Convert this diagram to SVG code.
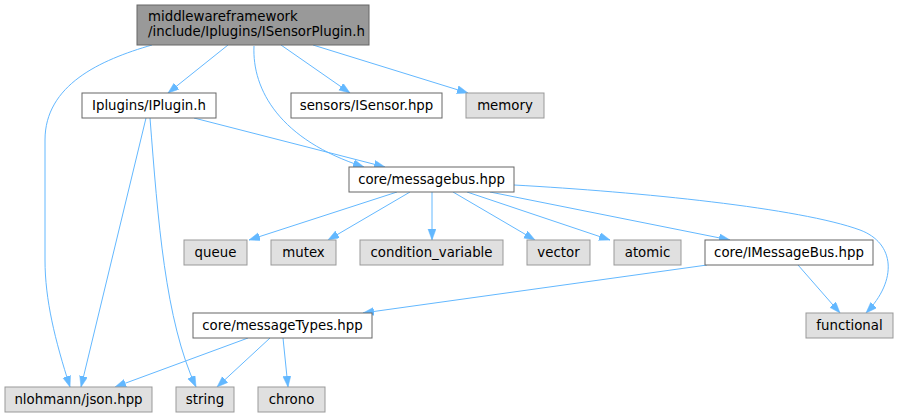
<svg xmlns="http://www.w3.org/2000/svg" width="898" height="417" viewBox="0 0 898 417">
<style>
text{font-family:"DejaVu Sans",sans-serif;font-size:13.33px;fill:#000}
.c{text-anchor:middle}
.root{fill:#999999;stroke:#666666;stroke-width:1}
.int{fill:#ffffff;stroke:#666666;stroke-width:1}
.sys{fill:#e0e0e0;stroke:#999999;stroke-width:1}
.e{fill:none;stroke:#63b8ff;stroke-width:1;marker-end:url(#ah)}
</style>
<defs>
<marker id="ah" markerUnits="userSpaceOnUse" markerWidth="12" markerHeight="9" refX="11" refY="4" orient="auto">
<path d="M0,0 L11,4 L0,8 z" fill="#63b8ff" stroke="#63b8ff" stroke-width="0.5"/>
</marker>
</defs>
<rect width="898" height="417" fill="#ffffff"/>
<g id="edges">
<path class="e" d="M152,45 C100,60 45,85 45,140 L45,260 C45,300 55,340 70,387"/>
<path class="e" d="M228,45 L168,93"/>
<path class="e" d="M254,46 C252,90 280,140 364,167"/>
<path class="e" d="M281,45 L350,93"/>
<path class="e" d="M313,45 L468,93"/>
<path class="e" d="M194,118 L385,167"/>
<path class="e" d="M146,118 L81,387"/>
<path class="e" d="M150,118 C158,220 165,320 196,387"/>
<path class="e" d="M397,192 L249,240"/>
<path class="e" d="M410,192 L328,240"/>
<path class="e" d="M432,192 L432,240"/>
<path class="e" d="M453,192 L535,240"/>
<path class="e" d="M467,192 L610,240"/>
<path class="e" d="M490,192 L730,240"/>
<path class="e" d="M514,185 C640,192 800,208 860,230 C895,243 898,280 866,313"/>
<path class="e" d="M798,265 L840,313"/>
<path class="e" d="M707,265 L363,313"/>
<path class="e" d="M248,338 L115,387"/>
<path class="e" d="M270,338 L217,387"/>
<path class="e" d="M283,338 L288,387"/>
</g>
<g id="node-root"><rect class="root" x="137" y="5" width="232" height="40"/><text x="148" y="21">middlewareframework</text><text x="148" y="36">/include/Iplugins/ISensorPlugin.h</text></g>
<g id="node-iplugin"><rect class="int" x="82" y="93" width="134" height="25"/><text class="c" x="149" y="110">Iplugins/IPlugin.h</text></g>
<g id="node-isensor"><rect class="int" x="291" y="93" width="151" height="25"/><text class="c" x="366.5" y="110">sensors/ISensor.hpp</text></g>
<g id="node-memory"><rect class="sys" x="466" y="93" width="78" height="25"/><text class="c" x="505" y="110">memory</text></g>
<g id="node-messagebus"><rect class="int" x="349" y="167" width="165" height="25"/><text class="c" x="431.5" y="184">core/messagebus.hpp</text></g>
<g id="node-queue"><rect class="sys" x="184" y="240" width="63" height="25"/><text class="c" x="215.5" y="257">queue</text></g>
<g id="node-mutex"><rect class="sys" x="271" y="240" width="65" height="25"/><text class="c" x="303.5" y="257">mutex</text></g>
<g id="node-condvar"><rect class="sys" x="360" y="240" width="143" height="25"/><text class="c" x="431.5" y="257">condition_variable</text></g>
<g id="node-vector"><rect class="sys" x="527" y="240" width="63" height="25"/><text class="c" x="558.5" y="257">vector</text></g>
<g id="node-atomic"><rect class="sys" x="614" y="240" width="67" height="25"/><text class="c" x="647.5" y="257">atomic</text></g>
<g id="node-imessagebus"><rect class="int" x="705" y="240" width="168" height="25"/><text class="c" x="789" y="257">core/IMessageBus.hpp</text></g>
<g id="node-functional"><rect class="sys" x="806" y="313" width="87" height="25"/><text class="c" x="849.5" y="330">functional</text></g>
<g id="node-messagetypes"><rect class="int" x="193" y="313" width="179" height="25"/><text class="c" x="282.5" y="330">core/messageTypes.hpp</text></g>
<g id="node-json"><rect class="sys" x="5" y="387" width="147" height="25"/><text class="c" x="78.5" y="404">nlohmann/json.hpp</text></g>
<g id="node-string"><rect class="sys" x="176" y="387" width="58" height="25"/><text class="c" x="205" y="404">string</text></g>
<g id="node-chrono"><rect class="sys" x="258" y="387" width="67" height="25"/><text class="c" x="291.5" y="404">chrono</text></g>
</svg>
